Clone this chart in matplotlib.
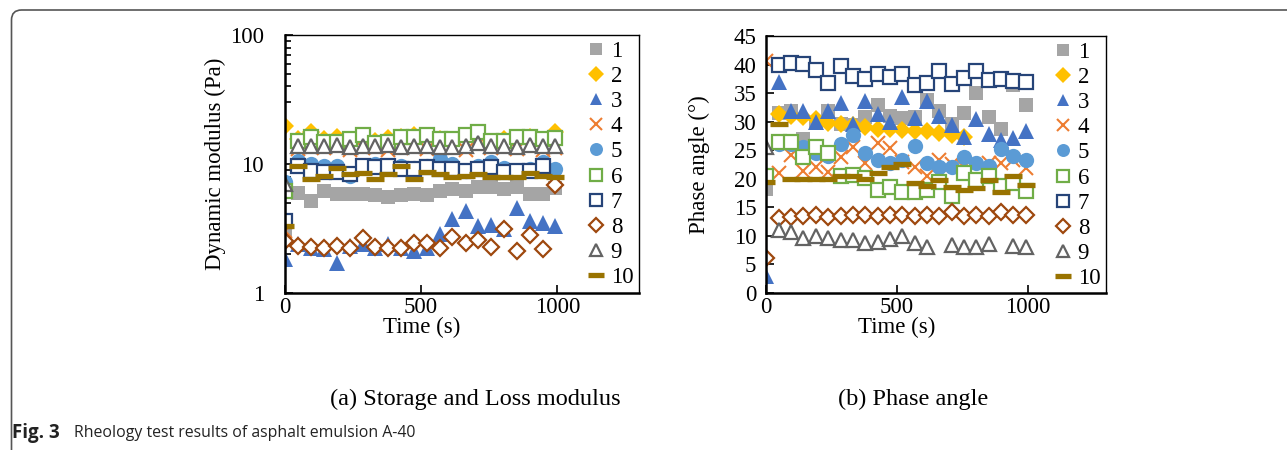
import numpy as np
import matplotlib
matplotlib.use('Agg')
import matplotlib.pyplot as plt
from matplotlib.patches import FancyBboxPatch
from matplotlib.transforms import IdentityTransform
from matplotlib.ticker import FixedLocator, FuncFormatter, LogLocator, NullFormatter

plt.rcParams['font.family'] = ['Liberation Serif', 'DejaVu Serif']

# time axis (s)
time_s = [0, 49, 96, 143, 191, 238, 285, 332, 379, 427, 474, 521, 568, 615, 663, 710, 757, 804, 851, 899, 946, 993]
nan = np.nan

# (a) dynamic modulus (Pa)
mod_1 = [3.0, 6.0, 5.2, 6.2, 5.9, 5.9, 5.9, 5.7, 5.5, 5.7, 5.9, 5.7, 6.2, 6.4, 6.2, 6.6, 6.6, 6.4, 6.6, 5.9, 5.9, 6.5]
mod_2 = [19.6, 15.7, 17.7, 15.7, 16.3, 15.0, 16.2, 15.2, 15.9, 16.2, 16.7, 16.2, 15.7, 15.3, 16.2, 16.9, 14.8, 15.7, 15.0, 16.3, 15.2, 17.7]
mod_3 = [1.84, 2.4, 2.25, 2.2, 1.72, 2.3, 2.4, 2.25, 2.4, 2.25, 2.12, 2.25, 2.86, 3.74, 4.35, 3.3, 3.35, 3.13, 4.56, 3.6, 3.46, 3.3]
mod_4 = [3.0, 13.0, 13.5, 13.2, 13.6, 12.9, 13.4, 13.6, 12.8, 13.3, 13.6, 13.1, 13.5, 13.7, 12.9, 14.2, 13.2, 13.6, 13.0, 13.8, 12.9, 13.4]
mod_5 = [7.2, 10.6, 10.0, 9.7, 9.7, 8.1, 9.7, 10.0, 9.7, 9.7, 9.3, 9.7, 11.0, 10.0, 8.9, 9.7, 10.3, 9.3, 8.9, 9.2, 10.3, 9.2]
mod_6 = [6.2, 15.2, 16.3, 14.8, 14.8, 15.7, 16.7, 14.5, 14.8, 16.2, 16.3, 16.7, 15.7, 15.7, 16.9, 17.7, 15.2, 15.0, 16.3, 16.3, 15.7, 16.0]
mod_7 = [3.6, 9.7, 8.9, 8.6, 8.6, 8.4, 9.7, 9.4, 9.7, 9.2, 9.2, 9.4, 9.2, 9.2, 8.9, 9.2, 9.4, 8.6, 8.9, 8.9, 9.7, nan]
mod_8 = [2.54, 2.3, 2.27, 2.22, 2.3, 2.25, 2.66, 2.27, 2.25, 2.22, 2.46, 2.46, 2.25, 2.73, 2.42, 2.57, 2.27, 3.13, 2.12, 2.83, 2.19, 6.9]
mod_9 = [7.0, 13.9, 13.9, 13.7, 14.0, 13.5, 13.9, 13.9, 14.0, 13.6, 13.9, 13.7, 13.6, 13.6, 13.8, 14.5, 13.7, 13.9, 13.6, 14.0, 13.7, 13.8]
mod_10 = [3.3, 9.6, 7.7, 8.1, 9.3, 8.4, 8.5, 7.7, 8.3, 9.6, 7.6, 8.6, 8.4, 8.0, 8.1, 8.3, 8.0, 8.0, 7.9, 8.5, 8.1, 8.0]

# (b) phase angle (deg)
ph_1 = [18.2, 31.5, 31.9, 27.0, 29.7, 31.9, 29.6, 29.5, 30.9, 32.9, 31.0, 30.6, 30.9, 33.8, 31.9, 29.6, 31.6, 35.0, 30.9, 28.8, 36.4, 32.9]
ph_2 = [nan, 31.3, 31.0, 30.8, 30.4, 29.8, 29.6, 29.4, 29.0, 28.8, 28.7, 28.5, 28.4, 28.3, 28.1, 27.7, 27.4, nan, nan, nan, nan, nan]
ph_3 = [2.9, 37.0, 31.9, 31.9, 30.0, 31.8, 33.3, 29.6, 33.7, 31.3, 30.0, 34.3, 30.6, 33.7, 31.0, 29.4, 27.3, 30.5, 27.8, 26.8, 27.1, 28.3]
ph_4 = [40.7, 21.0, 24.2, 21.4, 22.1, 21.2, 23.9, 25.6, 22.7, 26.3, 25.4, 23.0, 22.1, 20.4, 23.3, 22.5, 22.0, 19.5, 22.7, 22.7, 23.3, 21.8]
ph_5 = [nan, 26.1, 26.1, 25.6, 24.5, 24.0, 26.1, 27.7, 24.6, 23.3, 22.7, 23.3, 25.7, 22.7, 22.1, 22.1, 23.8, 22.8, 22.3, 25.3, 24.0, 23.3]
ph_6 = [20.4, 26.5, 26.5, 23.9, 25.6, 24.5, 20.4, 20.6, 20.2, 18.0, 18.5, 17.7, 17.7, 18.0, 19.5, 16.9, 21.0, 19.8, 20.4, 18.7, 19.2, 17.9]
ph_7 = [nan, 39.9, 40.3, 40.1, 39.1, 36.8, 39.8, 38.0, 37.4, 38.4, 37.8, 38.3, 36.4, 36.8, 38.8, 36.6, 37.6, 38.8, 37.3, 37.4, 37.1, 37.0]
ph_8 = [6.1, 13.1, 13.3, 13.5, 13.7, 13.3, 13.4, 13.7, 13.7, 13.5, 13.7, 13.7, 13.5, 13.7, 13.5, 14.1, 13.4, 13.7, 13.5, 14.1, 13.7, 13.7]
ph_9 = [25.6, 11.1, 10.7, 9.6, 9.9, 9.6, 9.2, 9.2, 8.7, 9.0, 9.4, 10.0, 8.7, 8.0, nan, 8.4, 8.0, 8.0, 8.6, nan, 8.2, 8.0]
ph_10 = [19.5, 29.6, 20.0, 20.0, 19.9, 20.0, 20.4, 20.5, 19.9, 21.0, 22.1, 22.6, 19.2, 18.7, 19.7, 18.5, 18.0, 18.3, 19.7, 17.6, 20.4, 18.9]

labels = ['1', '2', '3', '4', '5', '6', '7', '8', '9', '10']

# marker styles: (marker, colour, filled)
styles = [
    ('s', '#A5A5A5', True),
    ('D', '#FFC000', True),
    ('^', '#4472C4', True),
    ('x', '#ED7D31', True),
    ('o', '#5B9BD5', True),
    ('s', '#70AD47', False),
    ('s', '#264478', False),
    ('D', '#9E480E', False),
    ('^', '#636363', False),
    ('_', '#997300', True),
]
sizes = [10, 9.5, 11, 10, 11, 10, 10, 8.5, 10, 13]

FS = 16.5


def draw_series(ax, data):
    for lab, y, (mk, col, filled), ms in zip(labels, data, styles, sizes):
        if mk == '_':
            ax.plot(time_s, y, linestyle='none', marker=mk, ms=ms, mew=3.8,
                    color=col, label=lab)
        elif mk == 'x':
            ax.plot(time_s, y, linestyle='none', marker=mk, ms=ms, mew=1.5,
                    color=col, label=lab)
        elif filled:
            ax.plot(time_s, y, linestyle='none', marker=mk, ms=ms, mew=0,
                    color=col, label=lab)
        else:
            ax.plot(time_s, y, linestyle='none', marker=mk, ms=ms, mew=1.6,
                    mfc='white', mec=col, label=lab)


def style_axes(ax):
    ax.set_xlim(0, 1300)
    ax.set_xticks([0, 500, 1000])
    ax.tick_params(direction='in', which='both', labelsize=FS, width=1.2)
    ax.tick_params(which='major', length=6, pad=3)
    ax.tick_params(which='minor', length=4)
    for s in ['left', 'bottom']:
        ax.spines[s].set_linewidth(1.8)
    for s in ['top', 'right']:
        ax.spines[s].set_linewidth(1.0)
    ax.set_xlabel('Time (s)', fontsize=FS, labelpad=-1)
    ax.xaxis.label.set_x(0.385)
    ax.legend(loc='upper right', bbox_to_anchor=(1.0, 1.0), frameon=False,
              numpoints=1, fontsize=FS, handlelength=0.8, handletextpad=0.25,
              labelspacing=0.18, borderaxespad=0.15, borderpad=0.1,
              markerscale=0.85)


fig = plt.figure(figsize=(12.87, 4.5), dpi=100)

ax1 = fig.add_axes([0.2214, 0.3489, 0.2751, 0.5733])
draw_series(ax1, [mod_1, mod_2, mod_3, mod_4, mod_5, mod_6, mod_7, mod_8, mod_9, mod_10])
ax1.set_yscale('log')
ax1.set_ylim(1, 100)
ax1.yaxis.set_major_locator(FixedLocator([1, 10, 100]))
ax1.yaxis.set_major_formatter(FuncFormatter(lambda v, p: '%g' % v))
ax1.yaxis.set_minor_locator(LogLocator(base=10, subs=np.arange(2, 10)))
ax1.yaxis.set_minor_formatter(NullFormatter())
style_axes(ax1)
ax1.tick_params(axis='y', which='major', pad=15)
ax1.set_ylabel('Dynamic modulus (Pa)', fontsize=FS, labelpad=3)

ax2 = fig.add_axes([0.5952, 0.3489, 0.2642, 0.5711])
draw_series(ax2, [ph_1, ph_2, ph_3, ph_4, ph_5, ph_6, ph_7, ph_8, ph_9, ph_10])
ax2.set_ylim(0, 45)
ax2.set_yticks(np.arange(0, 46, 5))
style_axes(ax2)
ax2.tick_params(axis='y', which='major', pad=7)
ax2.set_ylabel('Phase angle (°)', fontsize=FS, labelpad=17)

# sub captions
fig.text(475 / 1287, 1 - 399 / 450, '(a) Storage and Loss modulus', fontsize=17.5,
         ha='center', va='center')
fig.text(913 / 1287, 1 - 399 / 450, '(b) Phase angle', fontsize=17.5,
         ha='center', va='center')

# figure caption
fig.text(12 / 1287, 1 - 433 / 450, 'Fig. 3', family=['Open Sans', 'DejaVu Sans'],
         fontweight='bold', fontsize=13.5, color='#222222', va='center')
fig.text(74 / 1287, 1 - 433 / 450, 'Rheology test results of asphalt emulsion A-40',
         family=['Open Sans', 'DejaVu Sans'], fontsize=11.4, color='#222222', va='center')

# rounded frame around the figure
frame = FancyBboxPatch((11.5, -40), 1400, 480, boxstyle='round,pad=0,rounding_size=10',
                       transform=IdentityTransform(), fill=False, lw=1.2,
                       edgecolor='#555555')
fig.patches.append(frame)

fig.savefig('out.png', dpi=100)
